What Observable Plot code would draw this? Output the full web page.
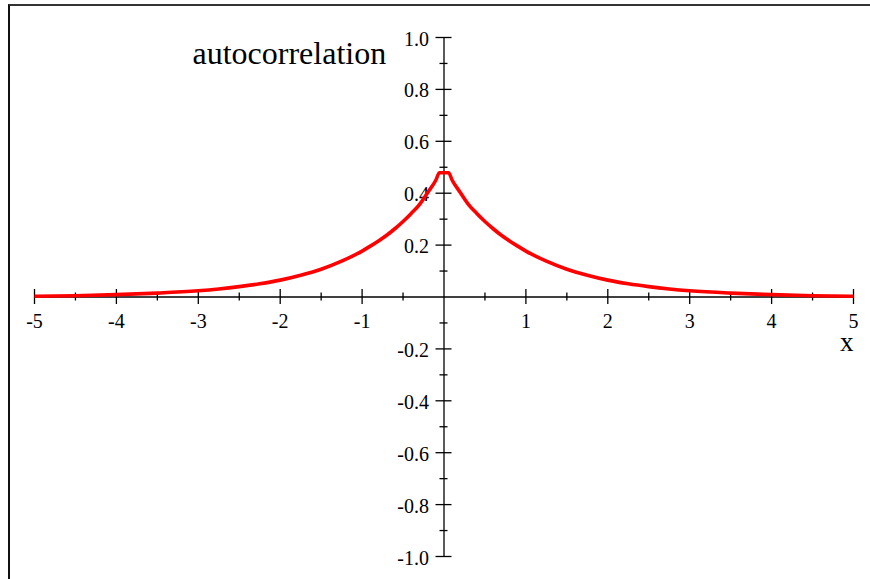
<!DOCTYPE html>
<html>
<head>
<meta charset="utf-8">
<script src="https://cdn.jsdelivr.net/npm/d3@7"></script>
<script src="https://cdn.jsdelivr.net/npm/@observablehq/plot@0.6"></script>
<style>
  html, body { margin: 0; padding: 0; background: #fff; }
  #wrap { position: relative; width: 870px; height: 579px; overflow: hidden; }
  #wrap svg { position: absolute; left: 0; top: 0; }
  /* window frame: top and left edges */
  #edge { position: absolute; left: 8px; top: 4px; right: 0; bottom: 0;
          border-top: 2px solid #333; border-left: 2px solid #111; pointer-events: none; }
</style>
</head>
<body>
<div id="wrap"><div id="edge"></div></div>
<script>
// Autocorrelation curve samples (lag, value)
const lags = [-5, -4.5, -4, -3.5, -3, -2.75, -2.5, -2.25, -2, -1.75, -1.5, -1.25, -1, -0.9, -0.8, -0.7, -0.6, -0.5, -0.4, -0.3, -0.2, -0.1, -0.055,
              0.055, 0.1, 0.2, 0.3, 0.4, 0.5, 0.6, 0.7, 0.8, 0.9, 1, 1.25, 1.5, 1.75, 2, 2.25, 2.5, 2.75, 3, 3.5, 4, 4.5, 5];
const acf  = [0.003, 0.005, 0.009, 0.015, 0.024, 0.031, 0.040, 0.051, 0.065, 0.084, 0.107, 0.138, 0.177, 0.196, 0.216, 0.238, 0.263, 0.291, 0.322, 0.356, 0.402, 0.450, 0.479,
              0.479, 0.450, 0.402, 0.356, 0.322, 0.291, 0.263, 0.238, 0.216, 0.196, 0.177, 0.138, 0.107, 0.084, 0.065, 0.051, 0.040, 0.031, 0.024, 0.015, 0.009, 0.005, 0.003];

// Axis ticks and labels
const xMajor = [-5, -4, -3, -2, -1, 1, 2, 3, 4, 5];
const xMinor = [-4.5, -3.5, -2.5, -1.5, -0.5, 0.5, 1.5, 2.5, 3.5, 4.5];
const yMajor = [-1, -0.8, -0.6, -0.4, -0.2, 0.2, 0.4, 0.6, 0.8, 1];
const yMinor = [-0.9, -0.7, -0.5, -0.3, -0.1, 0.1, 0.3, 0.5, 0.7, 0.9];
const xTickLabels = ["-5", "-4", "-3", "-2", "-1", "1", "2", "3", "4", "5"];
const yTickLabels = ["-1.0", "-0.8", "-0.6", "-0.4", "-0.2", "0.2", "0.4", "0.6", "0.8", "1.0"];

const title = "autocorrelation";
const xName = "x";

const points = lags.map((x, i) => ({x, y: acf[i]}));
const serif = "'Liberation Serif', 'Times New Roman', serif";

const chart = Plot.plot({
  width: 870,
  height: 579,
  marginLeft: 34,
  marginRight: 17,
  marginTop: 37,
  marginBottom: 23,
  x: {domain: [-5, 5], axis: null},
  y: {domain: [-1, 1], axis: null},
  style: {background: "transparent", fontFamily: serif},
  marks: [
    // axes through the origin
    Plot.ruleY([0], {stroke: "#000", strokeWidth: 1.3}),
    Plot.ruleX([0], {stroke: "#000", strokeWidth: 1.3}),
    // x ticks
    Plot.ruleX(xMajor, {x: d => d, y1: 0, y2: 0, insetTop: -7.5, insetBottom: -7.5, stroke: "#000", strokeWidth: 1.3}),
    Plot.ruleX(xMinor, {x: d => d, y1: 0, y2: 0, insetTop: -4, insetBottom: -4, stroke: "#000", strokeWidth: 1.3}),
    // y ticks
    Plot.ruleY(yMajor, {y: d => d, x1: 0, x2: 0, insetLeft: -8, insetRight: -8, stroke: "#000", strokeWidth: 1.3}),
    Plot.ruleY(yMinor, {y: d => d, x1: 0, x2: 0, insetLeft: -4, insetRight: -4, stroke: "#000", strokeWidth: 1.3}),
    // tick labels
    Plot.text(xMajor, {x: d => d, y: 0, text: (d, i) => xTickLabels[i], dy: 31, lineAnchor: "bottom",
      fontSize: 20, fill: "#000"}),
    Plot.text(yMajor, {x: 0, y: d => d, text: (d, i) => yTickLabels[i], dx: -15, dy: 8, lineAnchor: "bottom",
      textAnchor: "end", fontSize: 20, fill: "#000"}),
    // curve
    Plot.line(points, {x: "x", y: "y", curve: "monotone-x", stroke: "#ff0000", strokeWidth: 3.6,
      strokeLinejoin: "round", strokeLinecap: "butt"}),
    // axis name and title
    Plot.text([xName], {x: 5, y: 0, text: d => d, dy: 54, lineAnchor: "bottom", textAnchor: "end",
      fontSize: 27, fill: "#000"}),
    Plot.text([title], {frameAnchor: "top-left", text: d => d, dx: 158, dy: 26, lineAnchor: "bottom",
      textAnchor: "start", fontSize: 32, fill: "#000"})
  ]
});

document.getElementById("wrap").prepend(chart);
</script>
</body>
</html>
